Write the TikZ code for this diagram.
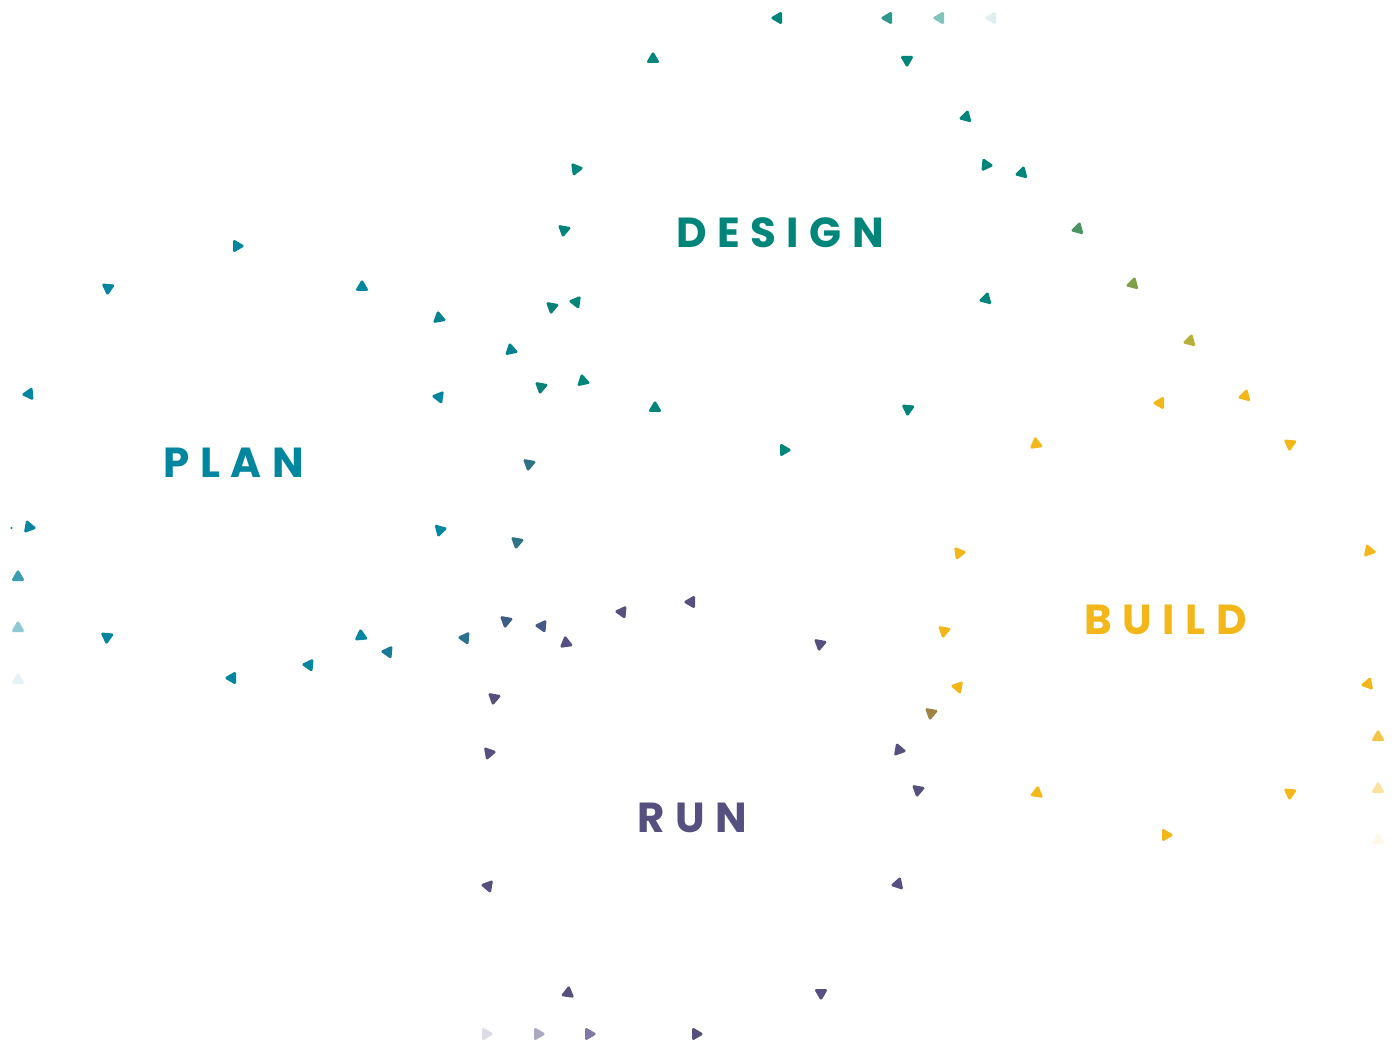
\documentclass[tikz,border=0pt]{standalone}
\usepackage{fontspec}
\newfontfamily\labfont{Poppins}[LetterSpace=25]
\definecolor{teal1}{HTML}{00857A}
\definecolor{teal2}{HTML}{2F978D}
\definecolor{teal3}{HTML}{80C2BC}
\definecolor{teal4}{HTML}{DDEFEE}
\definecolor{tealm}{HTML}{0A8078}
\definecolor{tealb}{HTML}{00838F}
\definecolor{plan1}{HTML}{00869E}
\definecolor{plan2}{HTML}{3A9DB2}
\definecolor{plan3}{HTML}{8FC9D5}
\definecolor{plan4}{HTML}{E2F2F5}
\definecolor{build1}{HTML}{F4B719}
\definecolor{build2}{HTML}{F6C44A}
\definecolor{build3}{HTML}{FBE2A0}
\definecolor{build4}{HTML}{FFF8E6}
\definecolor{run1}{HTML}{55507F}
\definecolor{run2}{HTML}{7E7AA2}
\definecolor{run3}{HTML}{ABA8C4}
\definecolor{run4}{HTML}{DDDBE8}
\definecolor{green1}{HTML}{4A9460}
\definecolor{green2}{HTML}{7FA048}
\definecolor{green3}{HTML}{B8AE3A}
\definecolor{brown1}{HTML}{A08445}
\definecolor{mix1}{HTML}{2F7285}
\definecolor{mix2}{HTML}{3C5E84}
\definecolor{mix3}{HTML}{455A88}
\definecolor{mix4}{HTML}{2A7090}
\definecolor{mix5}{HTML}{1A7A95}
\newcommand{\trimark}[4]{\fill[trishape,#4,shift={(#1,#2)}] (#3:8) -- (#3+120:8) -- (#3+240:8) -- cycle;}
\tikzset{
  trishape/.style={rounded corners=0.9pt},
  phase/.style={font=\labfont\bfseries\fontsize{21}{21}\selectfont, inner sep=0pt, anchor=base west}
}
\begin{document}
\begin{tikzpicture}[x=0.5pt,y=-0.5pt]
\useasboundingbox (0,0) rectangle (1398,1053);
% labels
\node[phase, text=teal1] (design) at (676,248) {DESIGN};
\node[phase, text=plan1] (plan) at (163,478) {PLAN};
\node[phase, text=build1] (build) at (1084,634) {BUILD};
\node[phase, text=run1] (run) at (637,832) {RUN};
% design region
\trimark{778}{18}{180}{teal1}
\trimark{888}{18}{180}{teal2}
\trimark{940}{18}{180}{teal3}
\trimark{992}{18}{180}{teal4}
\trimark{653}{59}{270}{teal1}
\trimark{907}{60}{90}{teal1}
\trimark{966}{117}{165}{teal1}
\trimark{986}{165}{5}{teal1}
\trimark{1022}{173}{165}{teal1}
\trimark{576}{169}{352}{teal1}
\trimark{564}{230}{100}{teal1}
\trimark{552}{307}{100}{tealm}
\trimark{576}{302}{188}{teal1}
\trimark{511}{350}{258}{tealb}
\trimark{541}{387}{100}{tealm}
\trimark{583}{381}{258}{teal1}
\trimark{655}{408}{270}{teal1}
\trimark{784}{450}{0}{teal1}
\trimark{529}{464}{100}{mix1}
\trimark{908}{409}{95}{teal1}
\trimark{986}{299}{165}{teal1}
\trimark{1078}{229}{165}{green1}
\trimark{1133}{284}{165}{green2}
\trimark{1190}{341}{165}{green3}
% build region
\trimark{1160}{403}{180}{build1}
\trimark{1245}{396}{165}{build1}
\trimark{1036}{444}{262}{build1}
\trimark{1290}{444}{95}{build1}
\trimark{959}{553}{352}{build1}
\trimark{1369}{551}{10}{build1}
\trimark{944}{631}{100}{build1}
\trimark{958}{687}{190}{build1}
\trimark{931}{713}{100}{brown1}
\trimark{1037}{793}{278}{build1}
\trimark{1290}{793}{95}{build1}
\trimark{1166}{835}{0}{build1}
\trimark{1368}{684}{170}{build1}
\trimark{1378}{737}{270}{build2}
\trimark{1378}{789}{270}{build3}
\trimark{1378}{840}{270}{build4}
% plan region
\trimark{237}{246}{0}{plan1}
\trimark{108}{288}{95}{plan1}
\trimark{362}{287}{270}{plan1}
\trimark{439}{318}{260}{tealb}
\trimark{29}{394}{175}{plan1}
\trimark{439}{397}{188}{plan1}
\fill[plan1] (11.5,528) circle (1.2);
\trimark{29}{527}{10}{plan1}
\trimark{18}{577}{270}{plan2}
\trimark{18}{628}{270}{plan3}
\trimark{18}{680}{270}{plan4}
\trimark{107}{637}{95}{plan1}
\trimark{361}{636}{265}{plan1}
\trimark{388}{652}{185}{mix5}
\trimark{309}{665}{185}{plan1}
\trimark{232}{678}{180}{plan1}
\trimark{440}{530}{346}{plan1}
\trimark{517}{542}{100}{mix1}
% run region
\trimark{506}{621}{100}{mix2}
\trimark{542}{626}{185}{mix3}
\trimark{566}{643}{262}{run1}
\trimark{465}{638}{185}{mix4}
\trimark{494}{698}{100}{run1}
\trimark{622}{612}{185}{run1}
\trimark{691}{602}{180}{run1}
\trimark{820}{644}{100}{run1}
\trimark{489}{753}{350}{run1}
\trimark{899}{750}{10}{run1}
\trimark{918}{790}{100}{run1}
\trimark{488}{886}{190}{run1}
\trimark{898}{884}{168}{run1}
\trimark{568}{993}{278}{run1}
\trimark{821}{993}{90}{run1}
\trimark{486}{1034}{0}{run4}
\trimark{538}{1034}{0}{run3}
\trimark{589}{1034}{0}{run2}
\trimark{696}{1034}{0}{run1}
\end{tikzpicture}
\end{document}
